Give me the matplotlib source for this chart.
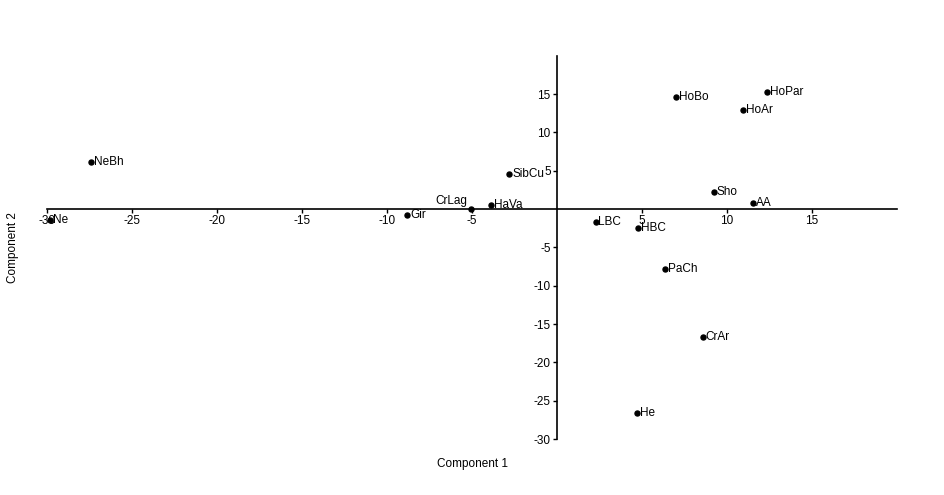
import matplotlib
matplotlib.use("Agg")
import matplotlib.pyplot as plt

plt.rcParams['font.family'] = ['Liberation Sans', 'DejaVu Sans']
plt.rcParams['axes.unicode_minus'] = False

# PCA scores
names = ["NeBh", "Ne", "SibCu", "CrLag", "HaVa", "Gir", "HoBo", "HoPar", "HoAr",
         "Sho", "AA", "LBC", "HBC", "PaCh", "CrAr", "He"]
comp1 = [-27.42, -29.83, -2.80, -5.04, -3.89, -8.80, 7.03, 12.38, 10.96,
         9.24, 11.52, 2.27, 4.76, 6.35, 8.57, 4.71]
comp2 = [6.07, -1.41, 4.57, 0.05, 0.56, -0.78, 14.57, 15.3, 12.96,
         2.26, 0.83, -1.65, -2.48, -7.87, -16.65, -26.65]

xticks = [-30, -25, -20, -15, -10, -5, 5, 10, 15]
yticks = [-30, -25, -20, -15, -10, -5, 5, 10, 15]

fig = plt.figure(figsize=(9.45, 4.95), dpi=100)
ax = fig.add_axes([0.0497, 0.113, 0.8995, 0.7745])

ax.plot(comp1, comp2, 'o', color='black', markersize=3.6)
for n, x, y in zip(names, comp1, comp2):
    if n == "CrLag":
        ax.annotate(n, (x, y), xytext=(-3, 1), textcoords='offset points',
                    ha='right', va='bottom', fontsize=8.5)
    else:
        ax.annotate(n, (x, y), xytext=(2, 0), textcoords='offset points',
                    ha='left', va='center', fontsize=8.5)

ax.set_xlim(-30, 20)
ax.set_ylim(-30, 20)
ax.spines['left'].set_position(('data', 0))
ax.spines['bottom'].set_position(('data', 0))
ax.spines['top'].set_visible(False)
ax.spines['right'].set_visible(False)
for s in ('left', 'bottom'):
    ax.spines[s].set_linewidth(1.2)

ax.set_xticks(xticks)
ax.set_yticks(yticks)
ax.tick_params(axis='both', labelsize=8.5, width=1, length=3, pad=1.5)

fig.text(0.4995, 0.062, "Component 1", ha='center', va='center', fontsize=8.5)
fig.text(0.014, 0.50, "Component 2", ha='center', va='center', rotation=90, fontsize=8.5)

fig.savefig("out.png", dpi=100)
